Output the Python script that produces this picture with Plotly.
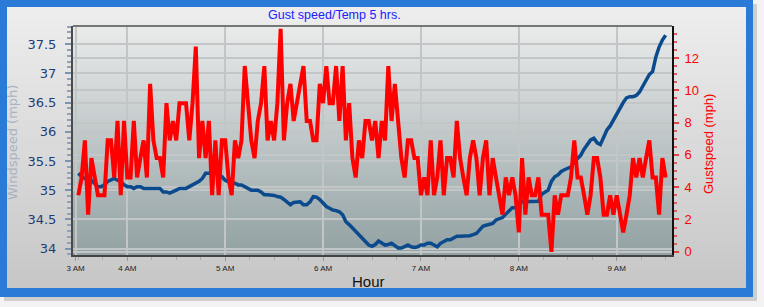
import plotly.graph_objects as go
import pandas as pd

# ---------------- data ----------------
times = pd.date_range("2024-01-01 03:30", periods=181, freq="2min")

wind_mph = [
    35.29, 35.23, 35.20, 35.17, 35.17, 35.12, 35.06, 35.06, 35.09, 35.15,
    35.17, 35.20, 35.17, 35.15, 35.09, 35.06, 35.06, 35.03, 35.06, 35.06,
    35.03, 35.03, 35.03, 35.03, 35.03, 35.03, 34.97, 34.97, 34.95, 34.97,
    35.00, 35.03, 35.03, 35.03, 35.06, 35.09, 35.12, 35.15, 35.20, 35.29,
    35.29, 35.32, 35.29, 35.26, 35.23, 35.17, 35.15, 35.12, 35.12, 35.09,
    35.09, 35.06, 35.03, 35.00, 35.00, 35.00, 34.97, 34.92, 34.92, 34.92,
    34.91, 34.89, 34.88, 34.84, 34.80, 34.75, 34.79, 34.80, 34.80, 34.75,
    34.75, 34.80, 34.89, 34.88, 34.84, 34.78, 34.72, 34.69, 34.66, 34.65,
    34.63, 34.58, 34.46, 34.41, 34.35, 34.29, 34.24, 34.18, 34.12, 34.06,
    34.04, 34.07, 34.13, 34.09, 34.06, 34.07, 34.09, 34.05, 34.01, 34.01,
    34.03, 34.06, 34.03, 34.02, 34.03, 34.06, 34.06, 34.09, 34.09, 34.06,
    34.03, 34.09, 34.12, 34.15, 34.15, 34.18, 34.21, 34.21, 34.21, 34.21,
    34.22, 34.24, 34.26, 34.32, 34.38, 34.40, 34.41, 34.43, 34.49, 34.51,
    34.53, 34.59, 34.65, 34.70, 34.70, 34.78, 34.80, 34.80, 34.80, 34.80,
    34.80, 34.81, 34.93, 34.97, 35.00, 35.15, 35.23, 35.26, 35.32, 35.35,
    35.38, 35.40, 35.48, 35.55, 35.60, 35.70, 35.79, 35.86, 35.89, 35.81,
    35.78, 35.89, 36.03, 36.10, 36.20, 36.33, 36.43, 36.50, 36.58, 36.60,
    36.60, 36.62, 36.68, 36.78, 36.88, 36.98, 37.03, 37.28, 37.45, 37.57,
    37.65,
]

gust_mph = [
    3.5, 4.6, 6.9, 2.3, 5.8, 4.6, 3.5, 3.5, 3.5, 6.9,
    6.9, 4.6, 8.1, 3.5, 8.1, 4.6, 4.6, 8.1, 4.6, 5.8,
    6.9, 4.6, 10.4, 6.9, 5.8, 5.8, 4.6, 9.2, 6.9, 8.1,
    6.9, 9.2, 9.2, 9.2, 6.9, 9.2, 12.7, 5.8, 8.1, 5.8,
    8.1, 3.5, 6.9, 3.5, 6.9, 6.9, 4.6, 3.5, 6.9, 5.8,
    6.9, 11.5, 9.2, 6.9, 5.8, 8.1, 9.2, 11.5, 6.9, 8.1,
    6.9, 9.2, 13.8, 6.9, 9.2, 10.4, 8.1, 9.2, 10.4, 11.5,
    8.1, 8.1, 6.9, 6.9, 10.4, 9.2, 11.5, 9.2, 9.2, 11.5,
    8.1, 11.5, 6.9, 9.2, 5.8, 4.6, 6.9, 5.8, 8.1, 8.1,
    6.9, 8.1, 5.8, 8.1, 6.9, 11.5, 8.1, 10.4, 8.1, 5.8,
    4.6, 6.9, 6.9, 5.8, 5.8, 3.5, 4.6, 3.5, 6.9, 3.5,
    4.6, 6.9, 3.5, 5.8, 5.8, 4.6, 8.1, 5.8, 4.6, 3.5,
    5.8, 6.9, 5.8, 3.5, 5.8, 6.9, 3.5, 5.8, 4.6, 3.5,
    2.3, 4.6, 3.5, 4.6, 3.5, 1.2, 5.8, 2.3, 4.6, 3.5,
    3.5, 4.6, 2.3, 2.3, 2.3, 0.0, 3.5, 2.3, 3.5, 3.5,
    3.5, 4.6, 6.9, 4.6, 4.6, 3.5, 2.3, 3.5, 5.8, 5.8,
    4.6, 2.3, 2.3, 3.5, 2.3, 3.5, 2.3, 1.2, 2.3, 3.5,
    5.8, 4.6, 5.8, 4.6, 5.8, 6.9, 4.6, 4.6, 2.3, 5.8,
    4.6,
]

tick_times = ["2024-01-01 03:28:20", "2024-01-01 04:00", "2024-01-01 05:00",
              "2024-01-01 06:00", "2024-01-01 07:00", "2024-01-01 08:00",
              "2024-01-01 09:00"]
tick_text = ["3 AM", "4 AM", "5 AM", "6 AM", "7 AM", "8 AM", "9 AM"]
x_range = ["2024-01-01 03:26:43", "2024-01-01 09:33:54"]
wind_range = [33.89, 37.81]
gust_range = [-0.2, 13.98]

# ---------------- layout geometry helpers ----------------
W, H = 764, 307
L, R, T, B = 73, 92, 26, 52
PW, PH = W - L - R, H - T - B


def px(x):
    return (x - L) / PW


def py(y):
    return (H - B - y) / PH


def lerp(c1, c2, t):
    return "rgb(%d,%d,%d)" % tuple(round(a + (b - a) * t) for a, b in zip(c1, c2))


shapes = []
# drop shadow
shapes.append(dict(type="rect", xref="paper", yref="paper", layer="below",
                   x0=px(4), x1=px(757), y0=py(301), y1=py(4),
                   fillcolor="#cfcfcf", line=dict(width=0)))
# blue frame
shapes.append(dict(type="rect", xref="paper", yref="paper", layer="below",
                   x0=px(0), x1=px(753), y0=py(297), y1=py(0),
                   fillcolor="#2a7ad8", line=dict(width=0)))
# inner panel gradient
n = 40
y_top, y_bot = 7, 288
for k in range(n):
    y0 = y_top + (y_bot - y_top) * k / n
    y1 = y_top + (y_bot - y_top) * (k + 1) / n + (0.8 if k < n - 1 else 0)
    shapes.append(dict(type="rect", xref="paper", yref="paper", layer="below",
                       x0=px(7), x1=px(746), y0=py(y1), y1=py(y0),
                       fillcolor=lerp((237, 237, 237), (199, 199, 199), (k + 0.5) / n),
                       line=dict(width=0)))
# plot area gradient
n = 60
for k in range(n):
    y0 = T + PH * k / n
    y1 = T + PH * (k + 1) / n + (0.8 if k < n - 1 else 0)
    shapes.append(dict(type="rect", xref="paper", yref="paper", layer="below",
                       x0=0, x1=1, y0=py(y1), y1=py(y0),
                       fillcolor=lerp((234, 235, 235), (146, 161, 163), (k + 0.5) / n),
                       line=dict(width=0)))
# top border of plot area
shapes.append(dict(type="line", xref="paper", yref="paper", layer="above",
                   x0=0, x1=1, y0=1, y1=1, line=dict(color="#767676", width=2)))

fig = go.Figure()
fig.add_trace(go.Scatter(x=times, y=wind_mph, mode="lines", yaxis="y",
                         line=dict(color="#0b4a8c", width=3.5), name="Windspeed"))
fig.add_trace(go.Scatter(x=times, y=gust_mph, mode="lines", yaxis="y2",
                         line=dict(color="#ff0000", width=4), name="Gustspeed"))

grid_col = "#c3c6c6"
fig.update_layout(
    width=W, height=H, autosize=False,
    margin=dict(l=L, r=R, t=T, b=B, pad=0),
    paper_bgcolor="#f3f3f3", plot_bgcolor="rgba(0,0,0,0)",
    showlegend=False,
    shapes=shapes,
    xaxis=dict(
        type="date", range=x_range, tickmode="array", tickvals=tick_times,
        ticktext=tick_text, tickfont=dict(family="Liberation Sans", size=8, color="#222"),
        ticks="outside", ticklen=4, tickwidth=1, tickcolor="#999",
        showgrid=True, gridcolor=grid_col, gridwidth=2,
        showline=True, linecolor="#444", linewidth=2, zeroline=False,
        ticklabelstandoff=0,
        minor=dict(dtick=15 * 60 * 1000, tick0="2024-01-01 03:00", ticks="outside",
                   ticklen=3, tickwidth=1, tickcolor="#aaa", showgrid=False),
    ),
    yaxis=dict(
        range=wind_range, tick0=34, dtick=0.5,
        tickfont=dict(family="DejaVu Sans", size=13, color="#1e3c78"),
        ticks="outside", ticklen=6, tickwidth=2, tickcolor="#7e93ad",
        showgrid=True, gridcolor=grid_col, gridwidth=2,
        showline=True, linecolor="#4a4a4a", linewidth=2, zeroline=False,
        ticklabelstandoff=6,
        minor=dict(dtick=0.1, tick0=34, ticks="outside", ticklen=4, tickwidth=2,
                   tickcolor="#8fa2b9", showgrid=False),
    ),
    yaxis2=dict(
        overlaying="y", side="right", range=gust_range, tick0=0, dtick=2,
        tickfont=dict(family="Liberation Sans", size=13, color="#ff0000"),
        ticks="outside", ticklen=5, tickwidth=2, tickcolor="#e04848",
        showgrid=True, gridcolor=grid_col, gridwidth=2,
        showline=True, linecolor="#111", linewidth=2, zeroline=False,
        ticklabelstandoff=3,
        minor=dict(dtick=0.5, tick0=0, ticks="outside", ticklen=3, tickwidth=2,
                   tickcolor="#e06060", showgrid=False),
    ),
    annotations=[
        dict(text="Gust speed/Temp 5 hrs.", xref="paper", yref="paper",
             x=px(334), y=py(15), showarrow=False, xanchor="center", yanchor="middle",
             font=dict(family="Liberation Sans", size=12.5, color="#2020ff")),
        dict(text="Windspeed (mph)", xref="paper", yref="paper",
             x=px(12), y=py(143), showarrow=False, textangle=-90,
             xanchor="center", yanchor="middle",
             font=dict(family="DejaVu Sans", size=13, color="#a7b3c3")),
        dict(text="Gustspeed (mph)", xref="paper", yref="paper",
             x=px(708), y=py(144), showarrow=False, textangle=-90,
             xanchor="center", yanchor="middle",
             font=dict(family="Liberation Sans", size=13, color="#ff0000")),
        dict(text="Hour", xref="paper", yref="paper",
             x=px(368), y=py(281.5), showarrow=False,
             xanchor="center", yanchor="middle",
             font=dict(family="Liberation Sans", size=15, color="#111")),
    ],
)

fig.write_html("out.html")
